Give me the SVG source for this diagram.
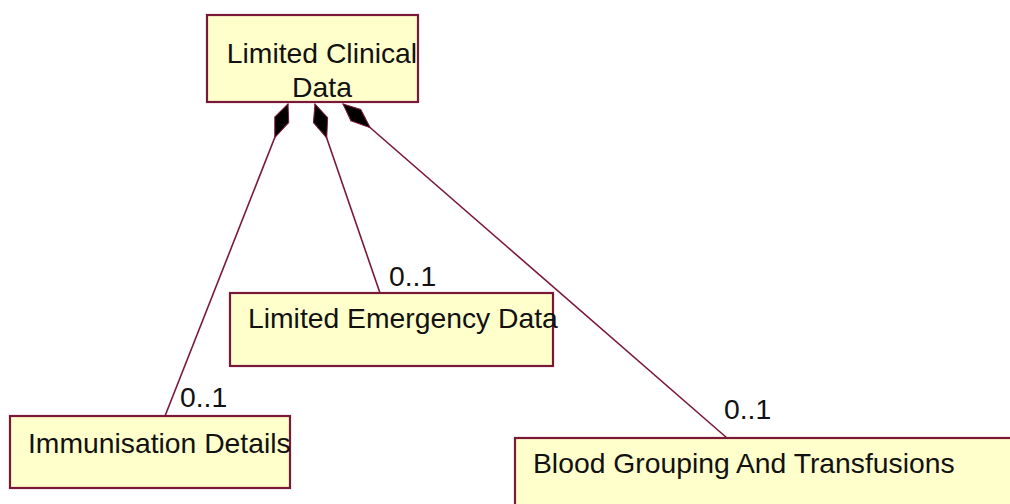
<svg xmlns="http://www.w3.org/2000/svg" width="1010" height="504" viewBox="0 0 1010 504">
<style>
.box{fill:#ffffcc;stroke:#7a1838;stroke-width:2.2}
.t{font-family:"Liberation Sans",Arial,sans-serif;font-size:28.3px;fill:#111}
.conn{stroke:#7a1838;stroke-width:1.6;fill:none;marker-start:url(#dia)}
</style>
<defs>
<marker id="dia" markerUnits="userSpaceOnUse" markerWidth="40" markerHeight="20" refX="1" refY="9" orient="auto" viewBox="0 0 40 18">
<path d="M1,9 L18,1.5 L37,9 L18,16.5 Z" fill="#000" stroke="#7a1838" stroke-width="1"/>
</marker>
</defs>
<rect width="1010" height="504" fill="#fff"/>
<g id="connectors">
<line class="conn" x1="288" y1="104" x2="165" y2="416"/>
<line class="conn" x1="315" y1="104" x2="380" y2="293"/>
<line class="conn" x1="343" y1="104" x2="727" y2="438"/>
<text class="t" x="180" y="407">0..1</text>
<text class="t" x="389" y="286">0..1</text>
<text class="t" x="724" y="419">0..1</text>
</g>
<g id="limited-clinical-data">
<rect class="box" x="207" y="15" width="211" height="87"/>
<text class="t" x="322" y="63" text-anchor="middle">Limited Clinical</text>
<text class="t" x="322" y="97" text-anchor="middle">Data</text>
</g>
<g id="limited-emergency-data">
<rect class="box" x="230" y="293" width="323" height="73"/>
<text class="t" x="248" y="328">Limited Emergency Data</text>
</g>
<g id="immunisation-details">
<rect class="box" x="10" y="416" width="280" height="72"/>
<text class="t" x="28" y="453">Immunisation Details</text>
</g>
<g id="blood-grouping">
<rect class="box" x="515" y="438" width="510" height="80"/>
<text class="t" x="533" y="473">Blood Grouping And Transfusions</text>
</g>
</svg>
